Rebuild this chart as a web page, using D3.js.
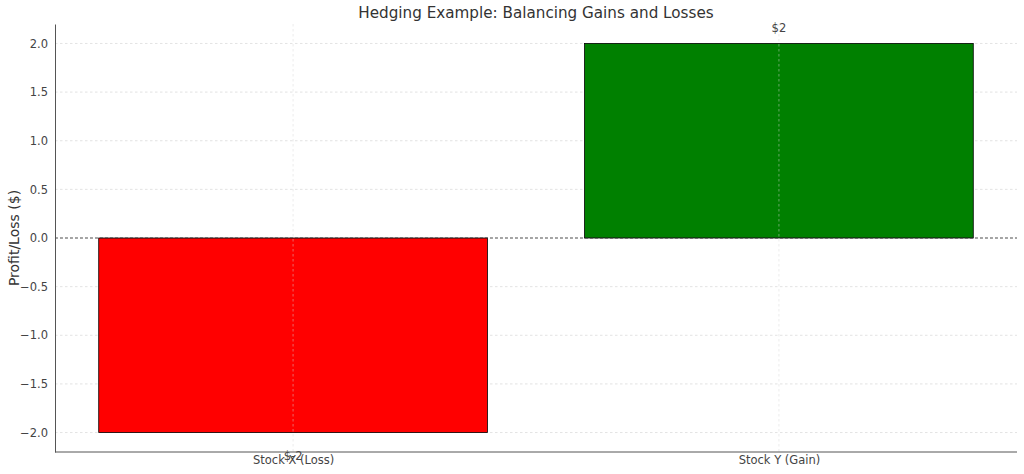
<!DOCTYPE html>
<html>
<head>
<meta charset="utf-8">
<script src="https://cdn.jsdelivr.net/npm/d3@7"></script>
<style>
  html, body { margin: 0; padding: 0; background: #fff; }
  svg { display: block; font-family: "DejaVu Sans", sans-serif; }
</style>
</head>
<body>
<svg id="chart" width="1024" height="474"></svg>
<script>
const categories = ["Stock X (Loss)", "Stock Y (Gain)"];
const values = [-2, 2];
const barColors = ["red", "green"];
const yTicks = [-2.0, -1.5, -1.0, -0.5, 0.0, 0.5, 1.0, 1.5, 2.0];
const title = "Hedging Example: Balancing Gains and Losses";
const yLabel = "Profit/Loss ($)";

const W = 1024, H = 474;
const m = { left: 55, right: 7, top: 24, bottom: 22 };
const svg = d3.select("#chart");

const x = d3.scaleLinear().domain([-0.49, categories.length - 1 + 0.49]).range([m.left, W - m.right]);
const y = d3.scaleLinear().domain([-2.2, 2.2]).range([H - m.bottom, m.top]);
const barW = 0.8;

const g = svg.append("g");

g.selectAll(".ygrid").data(yTicks).enter().append("line")
  .attr("x1", m.left).attr("x2", W - m.right)
  .attr("y1", d => y(d)).attr("y2", d => y(d))
  .attr("stroke", "#dcdcdc").attr("stroke-width", 0.8).attr("stroke-dasharray", "2.5,2.5");

g.selectAll(".bar").data(values).enter().append("rect")
  .attr("x", (d, i) => x(i - barW / 2))
  .attr("width", (d, i) => x(i + barW / 2) - x(i - barW / 2))
  .attr("y", d => y(Math.max(0, d)))
  .attr("height", d => Math.abs(y(d) - y(0)))
  .attr("fill", (d, i) => barColors[i])
  .attr("stroke", "#000").attr("stroke-width", 0.8);

g.selectAll(".xgrid").data(categories).enter().append("line")
  .attr("x1", (d, i) => x(i)).attr("x2", (d, i) => x(i))
  .attr("y1", m.top).attr("y2", H - m.bottom)
  .attr("stroke", "#d8d8d8").attr("stroke-opacity", 0.6).attr("stroke-width", 0.8).attr("stroke-dasharray", "2.5,2.5");

g.append("line")
  .attr("x1", m.left).attr("x2", W - m.right)
  .attr("y1", y(0)).attr("y2", y(0))
  .attr("stroke", "#333").attr("stroke-width", 0.8).attr("stroke-dasharray", "3,2");

const yAxis = d3.axisLeft(y).tickValues(yTicks).tickSize(0).tickPadding(7)
  .tickFormat(d => d3.format(".1f")(d).replace("-", "\u2212"));
const ya = svg.append("g").attr("transform", `translate(${m.left},0)`).call(yAxis);
ya.select(".domain").attr("stroke", "#555").attr("stroke-width", 1);
ya.selectAll("text").attr("fill", "#444").style("font-size", "11.5px").style("font-family", "DejaVu Sans");

const xAxis = d3.axisBottom(x).tickValues(categories.map((c, i) => i)).tickSize(0).tickPadding(4)
  .tickFormat(i => categories[i]);
const xa = svg.append("g").attr("transform", `translate(0,${H - m.bottom})`).call(xAxis);
xa.select(".domain").attr("stroke", "#555").attr("stroke-width", 1).attr("d", `M${m.left},0H${W - m.right}`);
xa.selectAll("text").attr("fill", "#444").style("font-size", "11.5px").style("font-family", "DejaVu Sans");

g.selectAll(".lbl").data(values).enter().append("text")
  .attr("x", (d, i) => x(i))
  .attr("y", d => y(d > 0 ? d + 0.1 : d - 0.3) - 2)
  .attr("text-anchor", "middle")
  .attr("fill", "#444").style("font-size", "11.5px")
  .text(d => "$" + d);

svg.append("text").attr("x", (m.left + W - m.right) / 2).attr("y", 18)
  .attr("text-anchor", "middle").attr("fill", "#333").style("font-size", "15.2px")
  .text(title);

svg.append("text").attr("transform", `translate(19,${(m.top + H - m.bottom) / 2}) rotate(-90)`)
  .attr("text-anchor", "middle").attr("fill", "#333").style("font-size", "14px")
  .text(yLabel);
</script>
</body>
</html>
